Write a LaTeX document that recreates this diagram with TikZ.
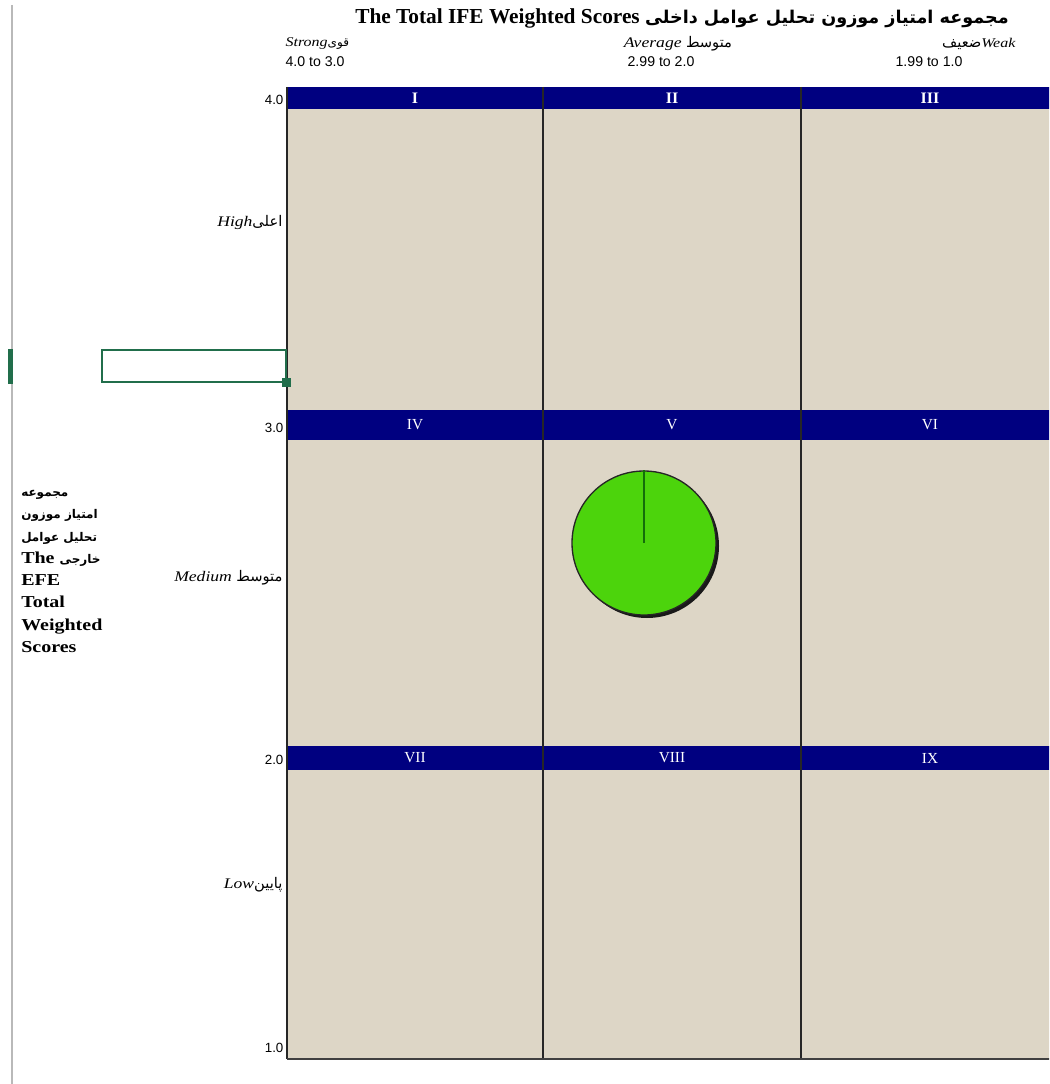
\documentclass[tikz,border=0pt]{standalone}
\usepackage{fontspec}
\setmainfont{Liberation Serif}
\setsansfont{Liberation Sans}
\newfontfamily\arabicfont[Script=Arabic]{DejaVu Sans}
\newfontfamily\widefont{Liberation Serif}[FakeStretch=1.2]
\TeXXeTstate=1
\usepackage{xcolor}
\usetikzlibrary{positioning}
\definecolor{cellbg}{RGB}{221,214,198}
\definecolor{barblue}{RGB}{0,0,128}
\definecolor{piegreen}{RGB}{76,212,12}
\definecolor{piedark}{RGB}{20,110,10}
\definecolor{xlgreen}{RGB}{33,110,75}
\newcommand{\fa}[2][9]{{\arabicfont\upshape\fontsize{#1}{12}\selectfont\beginR #2\endR}}

\begin{document}
\begin{tikzpicture}[x=0.75pt,y=-0.75pt,
    roman/.style={text=white,font=\fontsize{11.5}{13}\selectfont,inner sep=0pt},
    axisnum/.style={anchor=east,font=\sffamily\fontsize{10}{12}\selectfont,inner sep=1pt},
    rowlab/.style={anchor=east,font=\widefont\fontsize{11}{12}\selectfont\itshape,inner sep=1pt},
    colhead/.style={font=\widefont\fontsize{10}{12}\selectfont\itshape,inner sep=1pt},
    colrange/.style={font=\sffamily\fontsize{10.6}{12}\selectfont,inner sep=1pt}]
    \useasboundingbox (0,0) rectangle (1049,1084);
    \clip (0,0) rectangle (1049,1084);
    % sheet margin
    \draw[gray!55,line width=1.5pt] (12,5) -- (12,1084);
    \fill[xlgreen] (8,349) rectangle (13,384);
    % matrix body
    \fill[cellbg] (287,87) rectangle (1059,1059);
    \fill[barblue] (287,87) rectangle (1059,109);
    \fill[barblue] (287,410) rectangle (1059,440);
    \fill[barblue] (287,746) rectangle (1059,770);
    \foreach \xx in {287,543,801}
      \draw[black!85,line width=1pt] (\xx,87) -- (\xx,1059);
    \draw[black!75,line width=1.5pt] (287,1059) -- (1059,1059);
    % roman cell numbers
    \node[roman,font=\fontsize{12}{13}\selectfont\bfseries] (rI) at (415,98) {I};
    \node[roman,font=\fontsize{12}{13}\selectfont\bfseries] (rII) at (672,98) {II};
    \node[roman,font=\fontsize{12}{13}\selectfont\bfseries] (rIII) at (930,98) {III};
    \node[roman] (rIV) at (415,425) {IV};
    \node[roman] (rV) at (672,425) {V};
    \node[roman] (rVI) at (930,425) {VI};
    \node[roman] (rVII) at (415,758) {VII};
    \node[roman] (rVIII) at (672,758) {VIII};
    \node[roman] (rIX) at (930,758) {IX};
    % selected cell
    \draw[xlgreen,line width=2pt] (102,350) rectangle (286,382);
    \fill[xlgreen] (282,378) rectangle (291,387);
    % title and column heads
    \node[font=\fontsize{16}{18}\selectfont\bfseries] (title) at (682,18)
      {The Total IFE Weighted Scores {\arabicfont\fontsize{13.2}{18}\selectfont\bfseries\beginR مجموعه امتیاز موزون تحلیل عوامل داخلی\endR}};
    \node[colhead,anchor=west] (strong) at (284,44) {Strong\fa[9]{قوی}};
    \node[colhead,font=\widefont\fontsize{11}{12}\selectfont\itshape] (average) at (678,44) {Average \fa[11]{متوسط}};
    \node[colhead,anchor=east] (weak) at (1017,44) {\fa[11]{ضعیف}Weak};
    \node[colrange,anchor=west] (rng1) at (284,62) {4.0 to 3.0};
    \node[colrange] (rng2) at (661,62) {2.99 to 2.0};
    \node[colrange] (rng3) at (929,62) {1.99 to 1.0};
    % axis values
    \node[axisnum] (v4) at (285,100) {4.0};
    \node[axisnum] (v3) at (285,428) {3.0};
    \node[axisnum] (v2) at (285,760) {2.0};
    \node[axisnum] (v1) at (285,1048) {1.0};
    % row heads
    \node[rowlab] (high) at (284,222) {High\fa[11]{اعلی}};
    \node[rowlab] (medium) at (284,578) {Medium \fa[11]{متوسط}};
    \node[rowlab] (low) at (284,885) {Low\fa[11]{پایین}};
    % side caption
    \node[anchor=north west,align=left,inner sep=0pt,font=\widefont\fontsize{12.5}{16.7}\selectfont\bfseries] (efe) at (21,490)
      {{\arabicfont\fontsize{9}{16.7}\selectfont\bfseries\beginR مجموعه\endR}\\
       {\arabicfont\fontsize{9}{16.7}\selectfont\bfseries\beginR امتیاز موزون\endR}\\
       {\arabicfont\fontsize{9}{16.7}\selectfont\bfseries\beginR تحلیل عوامل\endR}\\
       The {\arabicfont\fontsize{9}{16.7}\selectfont\bfseries\beginR خارجی\endR}\\
       EFE\\ Total\\ Weighted\\ Scores};
    % position marker
    \fill[black!90] (647,546) circle [radius=72];
    \node[circle,fill=piegreen,draw=black!85,line width=1pt,minimum size=108pt,inner sep=0pt] (pie) at (644,543) {};
    \draw[piedark,line width=1.5pt] (pie.center) -- (pie.north);
  \end{tikzpicture}
\end{document}
